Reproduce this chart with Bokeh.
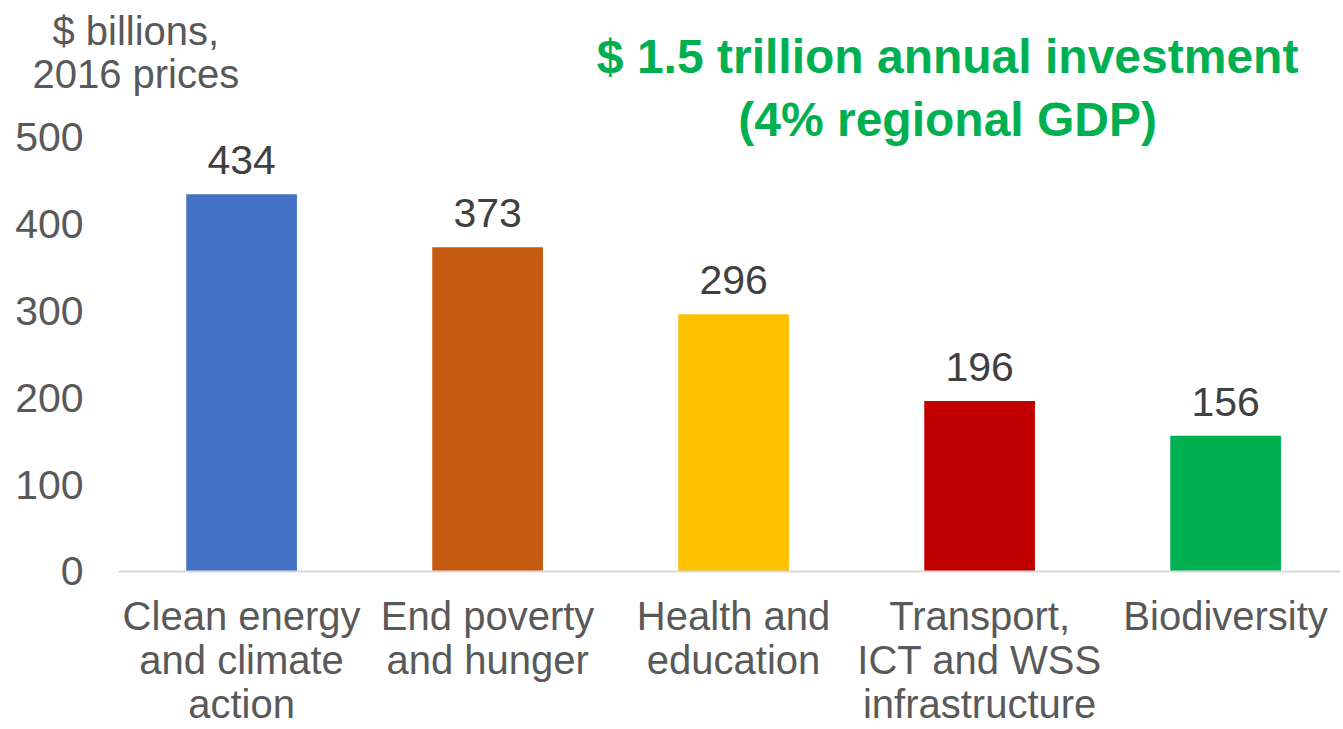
from bokeh.plotting import figure
from bokeh.models import ColumnDataSource, Range1d, FixedTicker, Label, LinearAxis
from bokeh.embed import file_html
from bokeh.resources import INLINE
from bokeh.core.properties import value

# ---- data ----
categories = [
    "Clean energy\nand climate\naction",
    "End poverty\nand hunger",
    "Health and\neducation",
    "Transport,\nICT and WSS\ninfrastructure",
    "Biodiversity",
]
values = [434, 373, 296, 196, 156]
bar_colors = ["#4472C4", "#C55A11", "#FFC000", "#C00000", "#00B050"]
y_ticks = [0, 100, 200, 300, 400, 500]
title_lines = ["$ 1.5 trillion annual investment", "(4% regional GDP)"]
unit_lines = ["$ billions,", "2016 prices"]

FONT = "Liberation Sans"
GRAY = "#595959"

xpos = [i + 0.5 for i in range(len(categories))]
src = ColumnDataSource(dict(x=xpos, val=values, color=bar_colors,
                            txt=[str(v) for v in values]))

p = figure(x_range=Range1d(-0.48, 4.967),
           y_range=Range1d(-41.5, 657),
           width=1340, height=728,
           output_backend="svg", toolbar_location=None,
           min_border_left=0, min_border_right=0,
           min_border_top=0, min_border_bottom=0)

p.vbar(x="x", top="val", width=0.45, color="color", source=src, line_color=None)

p.text(x="x", y="val", text="txt", source=src,
       text_align="center", text_baseline="alphabetic", y_offset=-34,
       text_font=value(FONT), text_font_size="41px", text_color="#404040")

# y axis drawn at x=0 inside the canvas
yax = p.yaxis[0]
yax.fixed_location = 0
yax.ticker = FixedTicker(ticks=y_ticks)
yax.axis_line_color = None
yax.major_tick_line_color = None
yax.minor_tick_line_color = None
yax.major_label_standoff = 29
yax.major_label_text_font = FONT
yax.major_label_text_font_size = "41px"
yax.major_label_text_color = GRAY

# category labels axis (below the frame)
xax = p.xaxis[0]
xax.ticker = FixedTicker(ticks=xpos)
xax.axis_line_color = None
xax.major_tick_line_color = None
xax.minor_tick_line_color = None
xax.major_label_standoff = -20
xax.major_label_text_font = FONT
xax.major_label_text_font_size = "40px"
xax.major_label_text_line_height = 1.0
xax.major_label_text_color = GRAY
xax.major_label_overrides = {x: c for x, c in zip(xpos, categories)}

# baseline axis at y = 0
base = LinearAxis(fixed_location=0, ticker=FixedTicker(ticks=[]),
                  bounds=(0, 4.967), axis_line_color="#D9D9D9",
                  axis_line_width=2, major_tick_line_color=None,
                  minor_tick_line_color=None, major_label_text_font_size="0px")
p.add_layout(base, "below")

p.xgrid.grid_line_color = None
p.ygrid.grid_line_color = None
p.outline_line_color = None

# title (green, bold)
for line, y in zip(title_lines, [593, 520.6]):
    p.add_layout(Label(x=3.37, y=y, text=line, text_align="center",
                       text_baseline="middle", text_font=FONT,
                       text_font_size="48px", text_font_style="bold",
                       text_color="#00B050"))

# unit label
for line, y in zip(unit_lines, [622, 572]):
    p.add_layout(Label(x=0.07, y=y, text=line, text_align="center",
                       text_baseline="middle", text_font=FONT,
                       text_font_size="40px", text_color=GRAY))

open("out.html", "w").write(file_html(p, INLINE))
